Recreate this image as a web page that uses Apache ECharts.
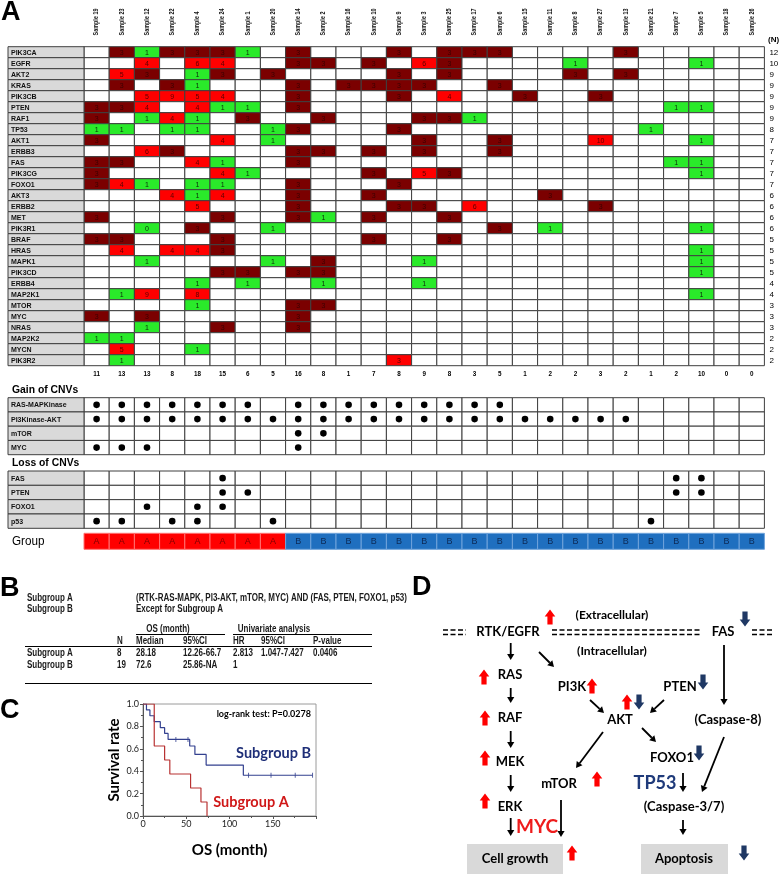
<!DOCTYPE html>
<html>
<head>
<meta charset="utf-8">
<script src="https://cdn.jsdelivr.net/npm/echarts@6/dist/echarts.min.js"></script>
<style>
html, body { margin: 0; padding: 0; background: #fff; }
#chart { width: 780px; height: 877px; }
</style>
</head>
<body>
<div id="chart"></div>
<script>
const _ = null;

// samples in the order of the heatmap columns
const samples = ['Sample 19', 'Sample 23', 'Sample 12', 'Sample 22', 'Sample 4', 'Sample 24', 'Sample 1', 'Sample 20',
    'Sample 14', 'Sample 2', 'Sample 16', 'Sample 10', 'Sample 9', 'Sample 3', 'Sample 25', 'Sample 17', 'Sample 6',
    'Sample 15', 'Sample 11', 'Sample 8', 'Sample 27', 'Sample 13', 'Sample 21', 'Sample 7', 'Sample 5', 'Sample 18', 'Sample 26'];
const genes = ['PIK3CA', 'EGFR', 'AKT2', 'KRAS', 'PIK3CB', 'PTEN', 'RAF1', 'TP53', 'AKT1', 'ERBB3', 'FAS', 'PIK3CG', 'FOXO1',
    'AKT3', 'ERBB2', 'MET', 'PIK3R1', 'BRAF', 'HRAS', 'MAPK1', 'PIK3CD', 'ERBB4', 'MAP2K1', 'MTOR', 'MYC', 'NRAS',
    'MAP2K2', 'MYCN', 'PIK3R2'];
const geneTotals = [12, 10, 9, 9, 9, 9, 9, 8, 7, 7, 7, 7, 7, 6, 6, 6, 6, 5, 5, 5, 5, 4, 4, 3, 3, 3, 2, 2, 2];
const sampleTotals = [11, 13, 13, 8, 18, 15, 6, 5, 16, 8, 1, 7, 8, 9, 8, 3, 5, 1, 2, 2, 3, 2, 1, 2, 10, 0, 0];

// copy number per gene (row) and sample (column), blank = no CNV
const copyNumber = [
    [_, 3, 1, 3, 3, 3, 1, _, 3, _, _, _, 3, _, 3, 3, 3, _, _, _, _, 3, _, _, _, _, _],
    [_, _, 4, _, 6, 4, _, _, 3, 3, _, 3, _, 6, 3, _, _, _, _, 1, _, _, _, _, 1, _, _],
    [_, 5, 3, _, 1, 3, _, 3, _, _, _, _, 3, _, 3, _, _, _, _, 3, _, 3, _, _, _, _, _],
    [_, 3, _, 3, 1, _, _, _, 3, _, 3, 3, 3, 3, _, _, 3, _, _, _, _, _, _, _, _, _, _],
    [_, _, 5, 9, 5, 4, _, _, 3, _, _, _, 3, _, 4, _, _, 3, _, _, 3, _, _, _, _, _, _],
    [3, 3, 4, _, 4, 1, 1, _, 3, _, _, _, _, _, _, _, _, _, _, _, _, _, _, 1, 1, _, _],
    [3, _, 1, 4, 1, _, 3, _, _, 3, _, _, _, 3, 3, 1, _, _, _, _, _, _, _, _, _, _, _],
    [1, 1, _, 1, 1, _, _, 1, 3, _, _, _, 3, _, _, _, _, _, _, _, _, _, 1, _, _, _, _],
    [3, _, _, _, _, 4, _, 1, _, _, _, _, _, 3, _, _, 3, _, _, _, 10, _, _, _, 1, _, _],
    [_, _, 6, 3, _, _, _, _, 3, 3, _, 3, _, 3, _, _, 3, _, _, _, _, _, _, _, _, _, _],
    [3, 3, _, _, 4, 1, _, _, 3, _, _, _, _, _, _, _, _, _, _, _, _, _, _, 1, 1, _, _],
    [3, _, _, _, _, 4, 1, _, _, _, _, 3, _, 5, 3, _, _, _, _, _, _, _, _, _, 1, _, _],
    [3, 4, 1, _, 1, 1, _, _, 3, _, _, _, 3, _, _, _, _, _, _, _, _, _, _, _, _, _, _],
    [_, _, _, 4, 1, 4, _, _, 3, _, _, 3, _, _, _, _, _, _, 3, _, _, _, _, _, _, _, _],
    [_, _, _, _, 5, _, _, _, 3, _, _, _, 3, 3, _, 6, _, _, _, _, 3, _, _, _, _, _, _],
    [3, _, _, _, _, 3, _, _, 3, 1, _, 3, _, _, 3, _, _, _, _, _, _, _, _, _, _, _, _],
    [_, _, 0, _, 3, _, _, 1, _, _, _, _, _, _, _, _, 3, _, 1, _, _, _, _, _, 1, _, _],
    [3, 3, _, _, _, 3, _, _, _, _, _, 3, _, _, 3, _, _, _, _, _, _, _, _, _, _, _, _],
    [_, 4, _, 4, 4, 3, _, _, _, _, _, _, _, _, _, _, _, _, _, _, _, _, _, _, 1, _, _],
    [_, _, 1, _, _, _, _, 1, _, 3, _, _, _, 1, _, _, _, _, _, _, _, _, _, _, 1, _, _],
    [_, _, _, _, _, 3, 3, _, 3, 3, _, _, _, _, _, _, _, _, _, _, _, _, _, _, 1, _, _],
    [_, _, _, _, 1, _, 1, _, _, 1, _, _, _, 1, _, _, _, _, _, _, _, _, _, _, _, _, _],
    [_, 1, 9, _, 8, _, _, _, _, _, _, _, _, _, _, _, _, _, _, _, _, _, _, _, 1, _, _],
    [_, _, _, _, 1, _, _, _, 3, 3, _, _, _, _, _, _, _, _, _, _, _, _, _, _, _, _, _],
    [3, _, 3, _, _, _, _, _, 3, _, _, _, _, _, _, _, _, _, _, _, _, _, _, _, _, _, _],
    [_, _, 1, _, _, 3, _, _, 3, _, _, _, _, _, _, _, _, _, _, _, _, _, _, _, _, _, _],
    [1, 1, _, _, _, _, _, _, _, _, _, _, _, _, _, _, _, _, _, _, _, _, _, _, _, _, _],
    [_, 5, _, _, 1, _, _, _, _, _, _, _, _, _, _, _, _, _, _, _, _, _, _, _, _, _, _],
    [_, 1, _, _, _, _, _, _, _, _, _, _, 3, _, _, _, _, _, _, _, _, _, _, _, _, _, _]
];
// cell that is drawn in bright red although it reads 3
const brightCells = [['PIK3R2', 'Sample 9']];

const gainPathways = ['RAS-MAPKinase', 'PI3Kinase-AKT', 'mTOR', 'MYC'];
const gainCalls = [
    [1, 1, 1, 1, 1, 1, 1, 0, 1, 1, 1, 1, 1, 1, 1, 1, 1, 0, 0, 0, 0, 0, 0, 0, 0, 0, 0],
    [1, 1, 1, 1, 1, 1, 1, 1, 1, 1, 1, 1, 1, 1, 1, 1, 1, 1, 1, 1, 1, 1, 0, 0, 0, 0, 0],
    [0, 0, 0, 0, 0, 0, 0, 0, 1, 1, 0, 0, 0, 0, 0, 0, 0, 0, 0, 0, 0, 0, 0, 0, 0, 0, 0],
    [1, 1, 1, 0, 0, 0, 0, 0, 1, 0, 0, 0, 0, 0, 0, 0, 0, 0, 0, 0, 0, 0, 0, 0, 0, 0, 0]
];
const lossGenes = ['FAS', 'PTEN', 'FOXO1', 'p53'];
const lossCalls = [
    [0, 0, 0, 0, 0, 1, 0, 0, 0, 0, 0, 0, 0, 0, 0, 0, 0, 0, 0, 0, 0, 0, 0, 1, 1, 0, 0],
    [0, 0, 0, 0, 0, 1, 1, 0, 0, 0, 0, 0, 0, 0, 0, 0, 0, 0, 0, 0, 0, 0, 0, 1, 1, 0, 0],
    [0, 0, 1, 0, 1, 1, 0, 0, 0, 0, 0, 0, 0, 0, 0, 0, 0, 0, 0, 0, 0, 0, 0, 0, 0, 0, 0],
    [1, 1, 0, 1, 1, 0, 0, 1, 0, 0, 0, 0, 0, 0, 0, 0, 0, 0, 0, 0, 0, 0, 1, 0, 0, 0, 0]
];
const groups = ['A', 'A', 'A', 'A', 'A', 'A', 'A', 'A', 'B', 'B', 'B', 'B', 'B', 'B', 'B', 'B', 'B', 'B', 'B', 'B',
    'B', 'B', 'B', 'B', 'B', 'B', 'B'];

// Kaplan-Meier curves (month, survival)
const kmMonthsA = [0, 13, 25, 31, 55, 67, 74];
const kmSurvA = [1, 0.625, 0.5, 0.375, 0.25, 0.125, 0];
const kmMonthsB = [0, 4, 8, 13, 20, 25, 29, 54, 60, 73, 116, 196];
const kmSurvB = [1, 0.947, 0.895, 0.842, 0.789, 0.737, 0.684, 0.625, 0.55, 0.455, 0.364, 0.364];
const censorMonthsB = [38, 52, 122, 148, 176, 196];
const censorSurvB = [0.684, 0.684, 0.364, 0.364, 0.364, 0.364];

const SANS = "'Liberation Sans', Arial, sans-serif";
const CAL = "Lato, 'Open Sans', sans-serif";
const DARK = '#7b0000', RED = '#ff0000', GREEN = '#2aea2a', NAVY = '#1f3864';

function textEl(x, y, s, o) {
    o = o || {};
    return {
        type: 'text', x: x, y: y, scaleX: o.sx || 1, rotation: o.rot || 0, silent: true,
        style: {
            text: s, x: 0, y: 0,
            fontSize: o.size || 9, fontFamily: o.family || SANS, fontWeight: o.weight || 'normal',
            fill: o.color || '#000',
            align: o.align || 'left', verticalAlign: 'middle',
            textAlign: o.align || 'left', textVerticalAlign: 'middle'
        }
    };
}

function cellRect(api, c, r, fill, stroke) {
    const p = api.coord([c, r]);
    const s = api.size([1, 1]);
    return {
        type: 'rect',
        shape: { x: p[0] - s[0] / 2, y: p[1] - s[1] / 2, width: s[0], height: s[1] },
        style: { fill: fill, stroke: stroke || '#3f3f3f', lineWidth: 1 }
    };
}

function labelColumn(xi, yi, names, size) {
    return {
        type: 'custom', xAxisIndex: xi, yAxisIndex: yi, silent: true,
        data: names.map((n, i) => [0, i]),
        renderItem: function (params, api) {
            const i = params.dataIndex;
            const p = api.coord([0, i]);
            const s = api.size([1, 1]);
            return {
                type: 'group', children: [
                    { type: 'rect', shape: { x: 8, y: p[1] - s[1] / 2, width: p[0] - s[0] / 2 - 8, height: s[1] },
                      style: { fill: '#d9d9d9', stroke: '#3f3f3f', lineWidth: 1 } },
                    textEl(11, p[1] + 0.5, names[i], { size: size, weight: 'bold', color: '#111' })
                ]
            };
        }
    };
}

// heatmap cells
const heatCells = [];
copyNumber.forEach((row, r) => row.forEach((v, c) => {
    const bright = brightCells.some(b => b[0] === genes[r] && b[1] === samples[c]);
    heatCells.push({ c: c, r: r, v: v, bright: bright });
}));

function heatColor(d) {
    if (d.v === null) return '#fff';
    if (d.bright) return RED;
    if (d.v <= 1) return GREEN;
    if (d.v === 3) return DARK;
    return RED;
}

function dotSeries(xi, yi, calls) {
    const cells = [];
    calls.forEach((row, r) => row.forEach((v, c) => cells.push({ c: c, r: r, v: v })));
    return {
        type: 'custom', xAxisIndex: xi, yAxisIndex: yi, silent: true,
        data: cells.map(d => [d.c, d.r]),
        renderItem: function (params, api) {
            const d = cells[params.dataIndex];
            const children = [cellRect(api, d.c, d.r, '#fff')];
            if (d.v) {
                const p = api.coord([d.c, d.r]);
                children.push({ type: 'circle', shape: { cx: p[0], cy: p[1], r: 3.3 }, style: { fill: '#000' } });
            }
            return { type: 'group', children: children };
        }
    };
}

function blockArrow(cx, cy, up, color) {
    const h = 15, hw = 5.3, sw = 2.6, head = 7;
    const s = up ? 1 : -1;
    const top = cy - s * h / 2, bot = cy + s * h / 2, neck = top + s * head;
    return {
        type: 'polygon', silent: true,
        shape: { points: [[cx, top], [cx + hw, neck], [cx + sw, neck], [cx + sw, bot], [cx - sw, bot], [cx - sw, neck], [cx - hw, neck]] },
        style: { fill: color }
    };
}

function arrow(x1, y1, x2, y2) {
    const a = Math.atan2(y2 - y1, x2 - x1);
    const L = 6, W = 3.6;
    const bx = x2 - L * Math.cos(a), by = y2 - L * Math.sin(a);
    const px = -Math.sin(a) * W, py = Math.cos(a) * W;
    return [
        { type: 'line', silent: true, shape: { x1: x1, y1: y1, x2: bx, y2: by }, style: { stroke: '#000', lineWidth: 1.8 } },
        { type: 'polygon', silent: true, shape: { points: [[x2, y2], [bx + px, by + py], [bx - px, by - py]] }, style: { fill: '#000' } }
    ];
}

function hline(x1, x2, y, w, dash) {
    return { type: 'line', silent: true, shape: { x1: x1, y1: y, x2: x2, y2: y },
        style: { stroke: '#000', lineWidth: w || 1, lineDash: dash || null } };
}

// ---- panel B ----
const nb = { size: 10, sx: 0.8, weight: 'bold', color: '#1a1a1a' };
const nbc = Object.assign({ align: 'center' }, nb);
const panelB = [
    textEl(0, 589, 'B', { size: 27, weight: 'bold' }),
    textEl(27, 598, 'Subgroup A', nb),
    textEl(27, 609, 'Subgroup B', nb),
    textEl(136, 598, '(RTK-RAS-MAPK, PI3-AKT, mTOR, MYC) AND (FAS, PTEN, FOXO1, p53)', nb),
    textEl(136, 609, 'Except for Subgroup A', nb),
    textEl(168, 629, 'OS (month)', nbc),
    textEl(274, 629, 'Univariate analysis', nbc),
    hline(136, 225, 634.5), hline(233, 372, 634.5),
    textEl(117, 641, 'N', nb), textEl(136, 641, 'Median', nb), textEl(183, 641, '95%CI', nb),
    textEl(233, 641, 'HR', nb), textEl(261, 641, '95%CI', nb), textEl(313, 641, 'P-value', nb),
    hline(25, 372, 646.5),
    textEl(27, 653, 'Subgroup A', nb), textEl(117, 653, '8', nb), textEl(136, 653, '28.18', nb),
    textEl(183, 653, '12.26-66.7', nb), textEl(233, 653, '2.813', nb), textEl(261, 653, '1.047-7.427', nb),
    textEl(313, 653, '0.0406', nb),
    textEl(27, 665, 'Subgroup B', nb), textEl(117, 665, '19', nb), textEl(136, 665, '72.6', nb),
    textEl(183, 665, '25.86-NA', nb), textEl(233, 665, '1', nb),
    hline(25, 372, 683.5)
];

// ---- panel D ----
const panelD = [
    textEl(412, 588, 'D', { size: 27, weight: 'bold' }),
    hline(443, 466, 630, 1.5, [5, 2.5]), hline(443, 466, 634.5, 1.5, [5, 2.5]),
    hline(552, 702, 630, 1.5, [5, 2.5]), hline(552, 702, 634.5, 1.5, [5, 2.5]),
    hline(752, 774, 630, 1.5, [5, 2.5]), hline(752, 774, 634.5, 1.5, [5, 2.5]),
    { type: 'rect', silent: true, shape: { x: 467, y: 844, width: 96, height: 30 }, style: { fill: '#d9d9d9' } },
    { type: 'rect', silent: true, shape: { x: 641, y: 844, width: 87, height: 30 }, style: { fill: '#d9d9d9' } }
];
const dLabels = [
    ['(Extracellular)', 612, 615, 12], ['RTK/EGFR', 508, 632, 13], ['FAS', 723, 632, 13],
    ['(Intracellular)', 612, 651, 12], ['RAS', 510, 675, 13], ['PI3K', 572, 687, 13], ['PTEN', 680, 687, 13],
    ['RAF', 510, 718, 13], ['AKT', 620, 720, 13], ['(Caspase-8)', 728, 720, 13], ['MEK', 510, 762, 13],
    ['FOXO1', 672, 758, 13], ['mTOR', 559, 784, 13], ['ERK', 510, 807, 13], ['(Caspase-3/7)', 684, 807, 13],
    ['Cell growth', 515, 859, 13], ['Apoptosis', 684, 859, 13]
];
dLabels.forEach(l => panelD.push(textEl(l[1], l[2], l[0], { size: l[3], weight: 'bold', family: CAL, align: 'center' })));
panelD.push(textEl(655, 783, 'TP53', { size: 18, weight: 'bold', family: CAL, align: 'center', color: '#1f3a7a' }));
panelD.push(textEl(537, 827, 'MYC', { size: 19, weight: 'bold', family: CAL, align: 'center', color: '#ee1c1c' }));
[[510.7, 643, 510.7, 660], [539, 652, 554, 667], [724, 645, 724, 705], [510.7, 688, 510.7, 703],
 [590, 700, 604, 713], [664, 700, 650, 713], [510.7, 731, 510.7, 748], [603, 732, 576, 768],
 [642, 728, 656, 742], [724, 737, 702, 792], [510.7, 775, 510.7, 792], [683, 773, 683, 792],
 [510.7, 818, 510.7, 836], [561, 800, 561, 837], [683, 820, 683, 835]
].forEach(a => arrow(a[0], a[1], a[2], a[3]).forEach(e => panelD.push(e)));
[[550, 617], [484, 677], [592, 686], [627, 702], [485, 718], [485, 758], [597, 779], [485, 801], [572, 853]]
    .forEach(p => panelD.push(blockArrow(p[0], p[1], true, RED)));
[[745, 619], [703, 682], [639, 702], [699, 753], [744, 853]]
    .forEach(p => panelD.push(blockArrow(p[0], p[1], false, NAVY)));

const hiddenCat = (gi, data) => ({ type: 'category', gridIndex: gi, data: data, show: false });

const option = {
    backgroundColor: '#fff',
    animation: false,
    grid: [
        { left: 84, top: 46.7, width: 680.4, height: 319 },
        { left: 84, top: 397.7, width: 680.4, height: 57 },
        { left: 84, top: 471, width: 680.4, height: 57.3 },
        { left: 84, top: 533.3, width: 680.4, height: 16 },
        { left: 143, top: 704, width: 173, height: 112, show: true, borderColor: '#9a9a9a', borderWidth: 1 }
    ],
    xAxis: [
        hiddenCat(0, samples), hiddenCat(1, samples), hiddenCat(2, samples), hiddenCat(3, samples),
        {
            type: 'value', gridIndex: 4, min: 0, max: 200, interval: 50,
            axisLine: { show: true, lineStyle: { color: '#555' } },
            axisTick: { show: true, length: 3, lineStyle: { color: '#555' } },
            minorTick: { show: true, splitNumber: 2, length: 2 },
            splitLine: { show: false },
            axisLabel: { fontSize: 9, fontFamily: CAL, color: '#222', margin: 4, showMaxLabel: false },
            name: 'OS (month)', nameLocation: 'middle', nameGap: 27,
            nameTextStyle: { fontSize: 15, fontWeight: 'bold', fontFamily: CAL, color: '#000' }
        }
    ],
    yAxis: [
        Object.assign(hiddenCat(0, genes), { inverse: true }),
        Object.assign(hiddenCat(1, gainPathways), { inverse: true }),
        Object.assign(hiddenCat(2, lossGenes), { inverse: true }),
        hiddenCat(3, ['Group']),
        {
            type: 'value', gridIndex: 4, min: 0, max: 1, interval: 0.2,
            axisLine: { show: true, lineStyle: { color: '#555' } },
            axisTick: { show: true, length: 3, lineStyle: { color: '#555' } },
            minorTick: { show: true, splitNumber: 2, length: 2 },
            splitLine: { show: false },
            axisLabel: { fontSize: 9, fontFamily: CAL, color: '#222', margin: 4, formatter: v => v.toFixed(1) },
            name: 'Survival rate', nameLocation: 'middle', nameGap: 21,
            nameTextStyle: { fontSize: 15, fontWeight: 'bold', fontFamily: CAL, color: '#000' }
        }
    ],
    graphic: { elements: [
        textEl(1, 13, 'A', { size: 27, weight: 'bold' }),
        textEl(768, 40, '(N)', { size: 8, weight: 'bold' }),
        textEl(12, 390, 'Gain of CNVs', { size: 11.5, weight: 'bold', sx: 0.9 }),
        textEl(12, 463, 'Loss of CNVs', { size: 11.5, weight: 'bold', sx: 0.9 }),
        textEl(12, 541, 'Group', { size: 13, sx: 0.9 }),
        textEl(0, 711, 'C', { size: 27, weight: 'bold' }),
        textEl(311, 714, 'log-rank test: P=0.0278', { size: 9, weight: 'bold', family: CAL, align: 'right' }),
        textEl(311, 753, 'Subgroup B', { size: 14.5, weight: 'bold', family: CAL, align: 'right', color: '#1f2f78' }),
        textEl(251, 802, 'Subgroup A', { size: 14.5, weight: 'bold', family: CAL, align: 'center', color: '#d01818' })
    ].concat(panelB, panelD) },
    series: [
        {
            type: 'custom', xAxisIndex: 0, yAxisIndex: 0, silent: true,
            data: heatCells.map(d => [d.c, d.r]),
            renderItem: function (params, api) {
                const d = heatCells[params.dataIndex];
                const fill = heatColor(d);
                const children = [cellRect(api, d.c, d.r, fill)];
                if (d.v !== null) {
                    const p = api.coord([d.c, d.r]);
                    const col = fill === GREEN ? '#0b2a0b' : (fill === DARK ? '#3a0000' : '#5a0000');
                    children.push(textEl(p[0], p[1] + 0.5, String(d.v), { size: 7, align: 'center', color: col }));
                }
                return { type: 'group', children: children };
            }
        },
        labelColumn(0, 0, genes, 7),
        {
            // sample names above the columns, totals below
            type: 'custom', xAxisIndex: 0, yAxisIndex: 0, silent: true,
            data: samples.map((s, i) => [i, 0]),
            renderItem: function (params, api) {
                const i = params.dataIndex;
                const p = api.coord([i, genes.length - 1]);
                return {
                    type: 'group', children: [
                        textEl(p[0], 35.5, samples[i], { size: 6.5, rot: Math.PI / 2, sx: 0.84, weight: 'bold', color: '#111' }),
                        textEl(p[0], 374, String(sampleTotals[i]), { size: 7, weight: 'bold', align: 'center', sx: 0.9 })
                    ]
                };
            }
        },
        {
            type: 'custom', xAxisIndex: 0, yAxisIndex: 0, silent: true,
            data: genes.map((g, i) => [samples.length - 1, i]),
            renderItem: function (params, api) {
                const i = params.dataIndex;
                const p = api.coord([samples.length - 1, i]);
                const s = api.size([1, 1]);
                return textEl(p[0] + s[0] / 2 + 5, p[1] + 0.5, String(geneTotals[i]), { size: 8 });
            }
        },
        dotSeries(1, 1, gainCalls),
        labelColumn(1, 1, gainPathways, 7),
        dotSeries(2, 2, lossCalls),
        labelColumn(2, 2, lossGenes, 7),
        {
            type: 'custom', xAxisIndex: 3, yAxisIndex: 3, silent: true,
            data: groups.map((g, i) => [i, 0]),
            renderItem: function (params, api) {
                const i = params.dataIndex;
                const p = api.coord([i, 0]);
                const a = groups[i] === 'A';
                return {
                    type: 'group', children: [
                        cellRect(api, i, 0, a ? '#ff0000' : '#1f6fbf', a ? '#ff7070' : '#6fa3db'),
                        textEl(p[0], p[1] + 0.5, groups[i], { size: 9, align: 'center', color: a ? '#7a0000' : '#0d2a55' })
                    ]
                };
            }
        },
        {
            type: 'line', xAxisIndex: 4, yAxisIndex: 4, step: 'end', showSymbol: false, silent: true,
            data: kmMonthsB.map((m, i) => [m, kmSurvB[i]]),
            lineStyle: { color: '#33408f', width: 1.2 }
        },
        {
            type: 'line', xAxisIndex: 4, yAxisIndex: 4, step: 'end', showSymbol: false, silent: true,
            data: kmMonthsA.map((m, i) => [m, kmSurvA[i]]),
            lineStyle: { color: '#b83232', width: 1.2 }
        },
        {
            type: 'scatter', xAxisIndex: 4, yAxisIndex: 4, silent: true,
            symbol: 'rect', symbolSize: [1, 5],
            data: censorMonthsB.map((m, i) => [m, censorSurvB[i]]),
            itemStyle: { color: '#33408f' }
        }
    ]
};

const chart = echarts.init(document.getElementById('chart'), null, { renderer: 'canvas' });
chart.setOption(option);
</script>
</body>
</html>
